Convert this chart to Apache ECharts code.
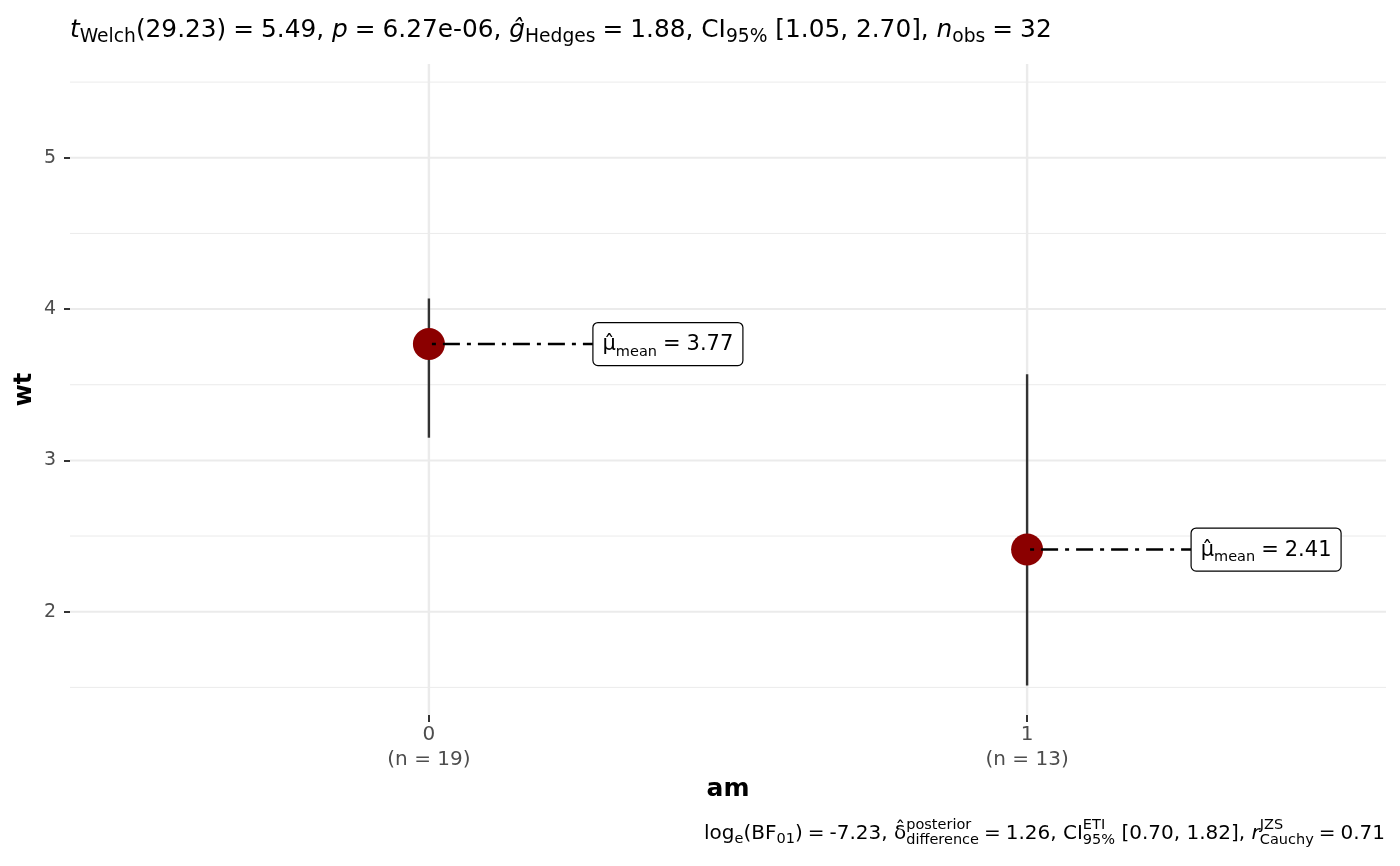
<!DOCTYPE html>
<html><head><meta charset="utf-8">
<script src="https://cdn.jsdelivr.net/npm/echarts@6/dist/echarts.min.js"></script>
<style>html,body{margin:0;padding:0;background:#fff}#c{width:1400px;height:866px}</style>
</head><body><div id="c"></div>
<script>
// ---- data ----
const groups = ['0', '1'];
const groupN = [19, 13];
const groupX = [0, 1];
const means = [3.769, 2.411];
const meanLabels = ['3.77', '2.41'];
const whiskerLow = [3.15, 1.513];
const whiskerHigh = [4.07, 3.57];
const yMajorBreaks = [2, 3, 4, 5];
const yMinorBreaks = [1.5, 2.5, 3.5, 4.5, 5.5];
const yLimits = [1.3175, 5.6196];
const xLimits = [-0.6, 1.6];

// ---- math-like text helper ----
const FONT = 'DejaVu Sans';
const cv = document.createElement('canvas').getContext('2d');
function fontStr(p) { return (p.it ? 'italic ' : '') + (p.b ? 'bold ' : '') + p.s + 'px "' + FONT + '"'; }
function measure(p) { cv.font = fontStr(p); return cv.measureText(p.t).width; }
function mathText(parts, x, baseline, anchor, z) {
  const items = []; let cx = 0;
  parts.forEach(p => {
    if (p.stack) {
      let w = 0;
      p.stack.forEach(q => { w = Math.max(w, measure(q)); items.push({ q, x: cx }); });
      cx += w;
    } else if (p.gap) { cx += p.gap; }
    else { items.push({ q: p, x: cx }); cx += measure(p); }
  });
  const x0 = anchor === 'right' ? x - cx : anchor === 'center' ? x - cx / 2 : x;
  return items.map(it => ({
    type: 'text', z: z || 10, silent: true,
    style: {
      text: it.q.t, x: x0 + it.x, y: baseline + (it.q.dy || 0) - 0.32 * it.q.s,
      fontSize: it.q.s, fontFamily: FONT, fontStyle: it.q.it ? 'italic' : 'normal',
      fontWeight: it.q.b ? 'bold' : 'normal', fill: it.q.c || '#000',
      verticalAlign: 'middle', textVerticalAlign: 'middle', textAlign: 'left'
    }
  }));
}

const TM = 24.8, TS = 18.7, TD = 5, TG = 7;
const titleParts = [
  { t: 't', s: TM, it: true }, { t: 'Welch', s: TS, dy: TD }, { t: '(29.23)', s: TM },
  { gap: TG }, { t: '=', s: TM }, { gap: TG }, { t: '5.49, ', s: TM },
  { t: 'p', s: TM, it: true }, { gap: TG }, { t: '=', s: TM }, { gap: TG }, { t: '6.27e-06, ', s: TM },
  { t: 'g\u0302', s: TM, it: true }, { t: 'Hedges', s: TS, dy: TD },
  { gap: TG }, { t: '=', s: TM }, { gap: TG }, { t: '1.88, CI', s: TM }, { t: '95%', s: TS, dy: TD },
  { t: ' [1.05, 2.70], ', s: TM }, { t: 'n', s: TM, it: true }, { t: 'obs', s: TS, dy: TD },
  { gap: TG }, { t: '=', s: TM }, { gap: TG }, { t: '32', s: TM }
];
const CM = 20, CS = 14.5, CG = 5;
const capParts = [
  { t: 'log', s: CM }, { t: 'e', s: CS, dy: 4 }, { t: '(BF', s: CM }, { t: '01', s: CS, dy: 4 }, { t: ')', s: CM },
  { gap: CG }, { t: '=', s: CM }, { gap: CG }, { t: '-7.23, ', s: CM },
  { t: '\u03b4\u0302', s: CM }, { stack: [{ t: 'posterior', s: CS, dy: -10 }, { t: 'difference', s: CS, dy: 5 }] },
  { gap: CG }, { t: '=', s: CM }, { gap: CG }, { t: '1.26, CI', s: CM },
  { stack: [{ t: 'ETI', s: CS, dy: -10 }, { t: '95%', s: CS, dy: 5 }] },
  { t: ' [0.70, 1.82], ', s: CM }, { t: 'r', s: CM, it: true },
  { stack: [{ t: 'JZS', s: CS, dy: -10 }, { t: 'Cauchy', s: CS, dy: 5 }] },
  { gap: CG }, { t: '=', s: CM }, { gap: CG }, { t: '0.71', s: CM }
];

const chart = echarts.init(document.getElementById('c'), null, { renderer: 'canvas' });
const option = {
  animation: false,
  backgroundColor: '#fff',
  grid: { left: 70, right: 14, top: 64, bottom: 151 },
  xAxis: {
    type: 'value', min: xLimits[0], max: xLimits[1],
    axisLine: { show: false, onZero: false },
    axisTick: { show: true, customValues: groupX, length: 7, lineStyle: { color: '#333', width: 2 } },
    axisLabel: {
      customValues: groupX, color: '#4d4d4d', fontSize: 20, fontFamily: FONT, lineHeight: 25, margin: 7,
      formatter: v => { const i = groupX.indexOf(Math.round(v)); return groups[i] + '\n(n = ' + groupN[i] + ')'; }
    },
    splitLine: { show: false },
    name: 'am', nameLocation: 'middle', nameGap: 61,
    nameTextStyle: { fontWeight: 'bold', fontSize: 25, color: '#000', fontFamily: FONT }
  },
  yAxis: {
    type: 'value', min: yLimits[0], max: yLimits[1],
    axisLine: { show: false, onZero: false },
    axisTick: { show: true, customValues: yMajorBreaks, length: 6, lineStyle: { color: '#333', width: 2 } },
    axisLabel: { customValues: yMajorBreaks, color: '#4d4d4d', fontSize: 19, fontFamily: FONT, margin: 14 },
    splitLine: { show: false },
    name: 'wt', nameLocation: 'middle', nameGap: 33, nameRotate: 90, nameMoveOverlap: false,
    nameTextStyle: { fontWeight: 'bold', fontSize: 24, color: '#000', fontFamily: FONT }
  },
  series: [
    {
      type: 'custom', silent: true, z: 0,
      data: [
        ...yMajorBreaks.map(v => [0, v, 2]),
        ...yMinorBreaks.map(v => [0, v, 1]),
        ...groupX.map(v => [1, v, 2.4])
      ],
      renderItem: (params, api) => {
        const cs = params.coordSys, k = api.value(0), v = api.value(1), w = api.value(2);
        let shape;
        if (k === 0) { const y = api.coord([0, v])[1]; shape = { x1: cs.x, y1: y, x2: cs.x + cs.width, y2: y }; }
        else { const x = api.coord([v, 0])[0]; shape = { x1: x, y1: cs.y, x2: x, y2: cs.y + cs.height }; }
        return { type: 'line', shape, style: { stroke: '#ebebeb', lineWidth: w } };
      }
    },
    {
      type: 'custom', silent: true, z: 2,
      data: groupX.map((x, i) => [x, whiskerLow[i], whiskerHigh[i]]),
      renderItem: (params, api) => {
        const a = api.coord([api.value(0), api.value(1)]), b = api.coord([api.value(0), api.value(2)]);
        return { type: 'line', shape: { x1: a[0], y1: a[1], x2: b[0], y2: b[1] }, style: { stroke: '#333', lineWidth: 2.4 } };
      }
    },
    {
      type: 'scatter', z: 3, symbol: 'circle', symbolSize: 32,
      itemStyle: { color: '#8B0000', opacity: 1 },
      data: groupX.map((x, i) => [x, means[i]])
    },
    {
      type: 'custom', silent: true, z: 4,
      data: groupX.map((x, i) => [x, means[i], i]),
      renderItem: (params, api) => {
        const p = api.coord([api.value(0), api.value(1)]);
        const i = api.value(2);
        const bx = p[0] + 164, bw = 150, bh = 43, by = p[1] - 21.5;
        const parts = [
          { t: '\u03bc\u0302', s: 21 }, { t: 'mean', s: 14.5, dy: 5 }, { gap: 6 }, { t: '=', s: 21 }, { gap: 6 },
          { t: meanLabels[i], s: 21 }
        ];
        return {
          type: 'group',
          children: [
            { type: 'line', shape: { x1: p[0] + 3, y1: p[1], x2: bx, y2: p[1] }, style: { stroke: '#000', lineWidth: 2.4, lineDash: [4, 7, 17, 7] } },
            { type: 'rect', shape: { x: bx, y: by, width: bw, height: bh, r: 5 }, style: { fill: '#fff', stroke: '#000', lineWidth: 1.2 } },
            ...mathText(parts, bx + bw / 2, p[1] + 7.5, 'center', 5)
          ]
        };
      }
    }
  ],
  graphic: [
    ...mathText(titleParts, 70, 38, 'left'),
    ...mathText(capParts, 1385, 840, 'right')
  ]
};
chart.setOption(option);
</script>
</body></html>
